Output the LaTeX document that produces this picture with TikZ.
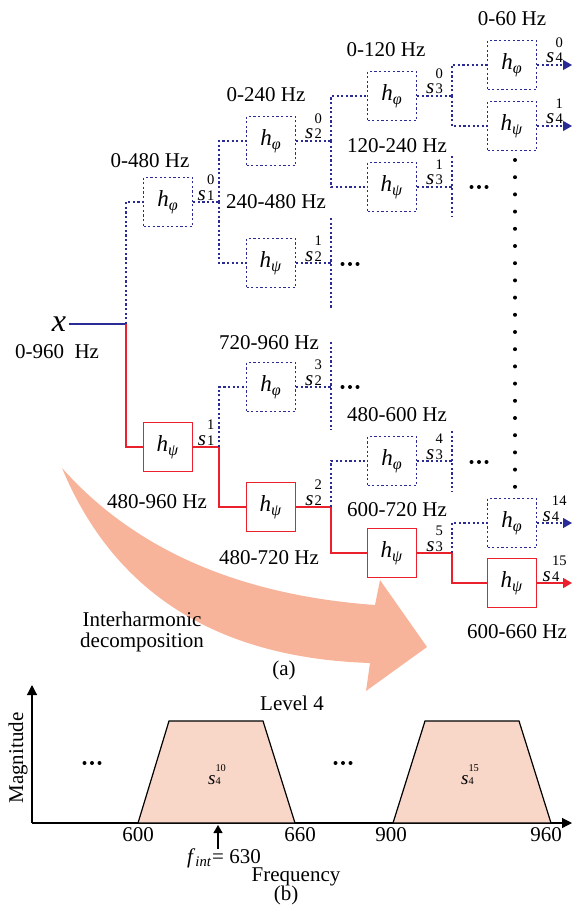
\documentclass[tikz,border=0pt]{standalone}
\usepackage{amsmath}
\usepackage{fontspec}
\setmainfont{Liberation Serif}
\usepackage{tikz}
\usetikzlibrary{arrows.meta, positioning}
\definecolor{lowblue}{RGB}{43,43,150}
\definecolor{highred}{RGB}{235,32,45}
\definecolor{sweep}{RGB}{248,180,154}
\definecolor{bandfill}{RGB}{249,215,200}
\newcommand{\lbl}{\fontsize{10.5}{11}\selectfont}
\newcommand{\hfont}{\fontsize{11.5}{12}\selectfont}
\newcommand{\hphi}{\textit{h}\textsubscript{\textit{φ}}}
\newcommand{\hpsi}{\textit{h}\textsubscript{\textit{ψ}}}
\newcommand{\sig}[2]{\textit{s}\hspace{0.6pt}{\fontsize{7.3}{9.5}\selectfont\shortstack[l]{#2\\#1}}}
\newcommand{\sigb}[2]{\textit{s}{\fontsize{5.2}{4.6}\selectfont\shortstack[l]{#2\\#1}}}

\begin{document}
\begin{tikzpicture}[
  x=0.5pt, y=-0.5pt,
  box/.style={minimum size=24.5pt, inner sep=0pt, font=\hfont},
  lowf/.style={box, draw=lowblue, line width=0.65pt, dash pattern=on 1.1pt off 1.2pt},
  highf/.style={box, draw=highred, line width=0.8pt},
  dotl/.style={draw=lowblue, line width=0.65pt, dash pattern=on 1.1pt off 1.2pt},
  redl/.style={draw=highred, line width=0.8pt},
  outarr/.style={-{Triangle[length=4.5pt, width=5pt]}},
  slab/.style={midway, anchor=base, yshift=1pt, inner sep=0pt, font=\lbl},
  freq/.style={font=\lbl, inner sep=0pt},
  axisl/.style={draw=black, line width=0.6pt},
  band/.style={fill=bandfill, draw=black, line width=0.6pt},
]
\useasboundingbox (0,0) rectangle (573,909);

% big decomposition arrow
\fill[sweep] (62,468) .. controls (134,549) and (238,595) .. (375,605)
  -- (380,580) -- (427,647) -- (366,691) -- (370,663)
  .. controls (217,658) and (114,593) .. (62,468) -- cycle;

% input
\node[inner sep=1pt, font=\fontsize{16}{18}\selectfont] (xin) at (59,324) {\textit{x}};
\node[freq] (f0) at (57,352) {0-960~~Hz};
\coordinate (j0) at (126,324);

% level 1
\node[lowf] (p1) at (168,202) {\hphi};
\node[highf] (q1) at (168,447) {\hpsi};
\coordinate (j1a) at (219,202);
\coordinate (j1b) at (219,447);

% level 2
\node[lowf] (p2a) at (271,141) {\hphi};
\node[lowf] (q2a) at (271,263) {\hpsi};
\node[lowf] (p2b) at (271,387) {\hphi};
\node[highf] (q2b) at (271,507) {\hpsi};
\coordinate (j2a) at (331,141);
\coordinate (j2b) at (331,263);
\coordinate (j2bu) at (331,218);
\coordinate (j2bd) at (331,308);
\coordinate (j2d) at (331,387);
\coordinate (j2du) at (331,342);
\coordinate (j2dd) at (331,430);
\coordinate (j2c) at (331,507);

% level 3
\node[lowf] (p3a) at (392,96) {\hphi};
\node[lowf] (q3a) at (392,187) {\hpsi};
\node[lowf] (p3b) at (392,461) {\hphi};
\node[highf] (q3b) at (392,553) {\hpsi};
\coordinate (j3a) at (452,96);
\coordinate (j3b) at (452,187);
\coordinate (j3bu) at (452,156);
\coordinate (j3bd) at (452,217);
\coordinate (j3c) at (452,461);
\coordinate (j3cu) at (452,431);
\coordinate (j3cd) at (452,492);
\coordinate (j3d) at (452,553);

% level 4
\node[lowf] (p4a) at (512,65) {\hphi};
\node[lowf] (q4a) at (512,126) {\hpsi};
\node[lowf] (p4b) at (512,523) {\hphi};
\node[highf] (q4b) at (512,583) {\hpsi};
\coordinate (o4a) at (572,65);
\coordinate (o4b) at (572,126);
\coordinate (o4c) at (572,523);
\coordinate (o4d) at (572,583);

% band labels
\node[freq] at (150,161) {0-480 Hz};
\node[freq] at (266,95) {0-240 Hz};
\node[freq] at (276,202) {240-480 Hz};
\node[freq] at (386,50) {0-120 Hz};
\node[freq] at (512,19) {0-60 Hz};
\node[freq] at (397,146) {120-240 Hz};
\node[freq] at (269,343) {720-960 Hz};
\node[freq] at (157,502) {480-960 Hz};
\node[freq] at (269,558) {480-720 Hz};
\node[freq] at (397,415) {480-600 Hz};
\node[freq] at (397,510) {600-720 Hz};
\node[freq] at (517,632) {600-660 Hz};

% connectors
\draw[lowblue, line width=0.65pt] (xin) -- (j0);
\draw[dotl] (j0) |- (p1);
\draw[redl] (j0) |- (q1);

\draw[dotl] (p1) -- (j1a) node[slab] {\sig{1}{0}};
\draw[dotl] (j1a) |- (p2a);
\draw[dotl] (j1a) |- (q2a);
\draw[redl] (q1) -- (j1b) node[slab] {\sig{1}{1}};
\draw[dotl] (j1b) |- (p2b);
\draw[redl] (j1b) |- (q2b);

\draw[dotl] (p2a) -- (j2a) node[slab] {\sig{2}{0}};
\draw[dotl] (j2a) |- (p3a);
\draw[dotl] (j2a) |- (q3a);
\draw[dotl] (q2a) -- (j2b) node[slab] {\sig{2}{1}};
\draw[dotl] (j2bu) -- (j2bd);
\draw[dotl] (p2b) -- (j2d) node[slab] {\sig{2}{3}};
\draw[dotl] (j2du) -- (j2dd);
\draw[redl] (q2b) -- (j2c) node[slab] {\sig{2}{2}};
\draw[dotl] (j2c) |- (p3b);
\draw[redl] (j2c) |- (q3b);

\draw[dotl] (p3a) -- (j3a) node[slab] {\sig{3}{0}};
\draw[dotl] (j3a) |- (p4a);
\draw[dotl] (j3a) |- (q4a);
\draw[dotl] (q3a) -- (j3b) node[slab] {\sig{3}{1}};
\draw[dotl] (j3bu) -- (j3bd);
\draw[dotl] (p3b) -- (j3c) node[slab] {\sig{3}{4}};
\draw[dotl] (j3cu) -- (j3cd);
\draw[redl] (q3b) -- (j3d) node[slab] {\sig{3}{5}};
\draw[dotl] (j3d) |- (p4b);
\draw[redl] (j3d) |- (q4b);

\draw[dotl, outarr] (p4a) -- (o4a) node[slab] {\sig{4}{0}};
\draw[dotl, outarr] (q4a) -- (o4b) node[slab] {\sig{4}{1}};
\draw[dotl, outarr] (p4b) -- (o4c) node[slab] {\sig{4}{14}};
\draw[redl, outarr] (q4b) -- (o4d) node[slab] {\sig{4}{15}};

% skipped branches
\foreach \cx/\cy in {350/264, 479/187, 350/387, 479/462, 92/763, 343/763}
  \foreach \d in {-7.5,0,7.5}
    \fill ({\cx+\d},\cy) circle[radius=1pt];
\foreach \k in {0,...,19}
  \fill (515,{160+17.2*\k}) circle[radius=1pt];

\node[font=\fontsize{10.5}{10.5}\selectfont, align=center] (dec) at (142,632) {Interharmonic\\decomposition};
\node[freq] (cap_a) at (284,670) {(a)};

% spectrum at level 4
\coordinate (org) at (32,823);
\coordinate (ytop) at (32,685);
\coordinate (xend) at (572,823);
\draw[axisl, -{Triangle[length=5pt, width=5pt]}] (org) -- (ytop);
\draw[axisl, -{Triangle[length=5pt, width=5pt]}] (org) -- (xend);
\draw[band] (138,823) -- (169,721) -- (263,721) -- (295,823) -- cycle;
\draw[band] (393,823) -- (425,721) -- (519,721) -- (551,823) -- cycle;
\node[font=\fontsize{9.5}{10}\selectfont] (b10) at (217,775) {\sigb{4}{10}};
\node[font=\fontsize{9.5}{10}\selectfont] (b15) at (470,775) {\sigb{4}{15}};
\node[freq] (lev) at (292,703) {Level 4};
\node[freq, rotate=90] (mag) at (18,758) {Magnitude};
\node[freq] (t600) at (138,835) {600};
\node[freq] (t660) at (300,835) {660};
\node[freq] (t900) at (391,835) {900};
\node[freq] (t960) at (546,835) {960};
\coordinate (fbot) at (218,849);
\coordinate (ftop) at (218,825);
\draw[axisl, -{Triangle[length=4pt, width=4.5pt]}] (fbot) -- (ftop);
\node[freq] (fint) at (224,858) {\textit{f}\textsubscript{\textit{int}}= 630};
\node[freq] (frq) at (296,877) {Frequency};
\node[freq] (cap_b) at (286,895) {(b)};
\end{tikzpicture}
\end{document}
